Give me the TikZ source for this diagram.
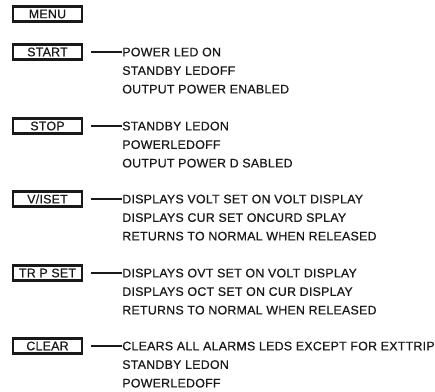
\documentclass[tikz,border=0pt]{standalone}
\usepackage{fontspec}
\setmainfont[FakeBold=0.6, LetterSpace=2]{Liberation Sans}
\usetikzlibrary{positioning}
\definecolor{inkgray}{RGB}{25,25,25}

\begin{document}
\begin{tikzpicture}[x=0.75pt, y=-0.75pt, node distance=29pt,
    keybox/.style={draw=inkgray, line width=1.8pt, minimum width=52pt, minimum height=11.5pt, inner sep=0pt, text=inkgray, font=\fontsize{9.3}{11}\selectfont},
    desc/.style={inner sep=0pt, text height=10pt, text depth=3.5pt, text=inkgray, font=\fontsize{9.3}{11}\selectfont},
    link/.style={draw=inkgray, line width=1.2pt}]
    \useasboundingbox (0,0) rectangle (435,392);

    \node[keybox] (menu) at (47.5,14) {MENU};

    % start
    \node[keybox] (start) at (47.5,52) {START};
    \node[desc, right=of start] (start1) {POWER LED ON};
    \node[desc, anchor=north west] (start2) at (start1.south west) {STANDBY LEDOFF};
    \node[desc, anchor=north west] (start3) at (start2.south west) {OUTPUT POWER ENABLED};
    \draw[link] ([xshift=6pt]start.east) -- (start1.west);

    % stop
    \node[keybox] (stop) at (47.5,126) {STOP};
    \node[desc, right=of stop] (stop1) {STANDBY LEDON};
    \node[desc, anchor=north west] (stop2) at (stop1.south west) {POWERLEDOFF};
    \node[desc, anchor=north west] (stop3) at (stop2.south west) {OUTPUT POWER D SABLED};
    \draw[link] ([xshift=6pt]stop.east) -- (stop1.west);

    % v/i set
    \node[keybox] (viset) at (47.5,199) {V/ISET};
    \node[desc, right=of viset] (viset1) {DISPLAYS VOLT SET ON VOLT DISPLAY};
    \node[desc, anchor=north west] (viset2) at (viset1.south west) {DISPLAYS CUR SET ONCURD SPLAY};
    \node[desc, anchor=north west] (viset3) at (viset2.south west) {RETURNS TO NORMAL WHEN RELEASED};
    \draw[link] ([xshift=6pt]viset.east) -- (viset1.west);

    % trip set
    \node[keybox] (tripset) at (47.5,273) {TR P SET};
    \node[desc, right=of tripset] (tripset1) {DISPLAYS OVT SET ON VOLT DISPLAY};
    \node[desc, anchor=north west] (tripset2) at (tripset1.south west) {DISPLAYS OCT SET ON CUR DISPLAY};
    \node[desc, anchor=north west] (tripset3) at (tripset2.south west) {RETURNS TO NORMAL WHEN RELEASED};
    \draw[link] ([xshift=6pt]tripset.east) -- (tripset1.west);

    % clear
    \node[keybox] (clear) at (47.5,346) {CLEAR};
    \node[desc, right=of clear] (clear1) {CLEARS ALL ALARMS LEDS EXCEPT FOR EXTTRIP};
    \node[desc, anchor=north west] (clear2) at (clear1.south west) {STANDBY LEDON};
    \node[desc, anchor=north west] (clear3) at (clear2.south west) {POWERLEDOFF};
    \draw[link] ([xshift=6pt]clear.east) -- (clear1.west);
\end{tikzpicture}
\end{document}
